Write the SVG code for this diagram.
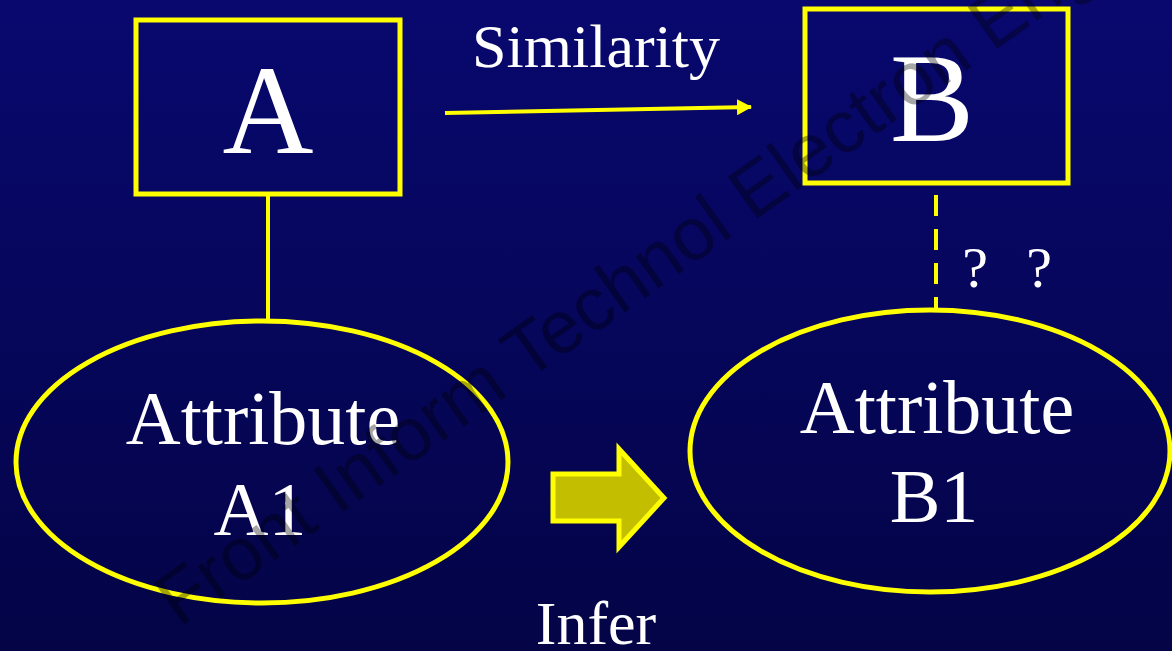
<svg xmlns="http://www.w3.org/2000/svg" width="1172" height="651" viewBox="0 0 1172 651">
  <defs>
    <linearGradient id="bg" x1="0" y1="0" x2="0" y2="1">
      <stop offset="0" stop-color="#08086F"/>
      <stop offset="1" stop-color="#040447"/>
    </linearGradient>
    <marker id="head" viewBox="0 0 15 16" refX="14" refY="8" markerWidth="15" markerHeight="16" markerUnits="userSpaceOnUse" orient="auto">
      <path d="M0,0 L15,8 L0,16 Z" fill="#FFFF00"/>
    </marker>
    <style>
      .shape { fill: none; stroke: #FFFF00; stroke-width: 5; }
      .lbl { font-family: "Liberation Serif", "Times New Roman", serif; fill: #FFFFFF; text-anchor: middle; }
      .conn { stroke: #FFFF00; stroke-width: 4; fill: none; }
      .wm { font-family: "Liberation Sans", Arial, sans-serif; font-size: 74.5px; fill: #000000; fill-opacity: 0.35; }
    </style>
  </defs>
  <rect x="0" y="0" width="1172" height="651" fill="url(#bg)"/>

  <g id="connectors">
    <line class="conn" x1="268" y1="195" x2="268" y2="320"/>
    <line class="conn" x1="445" y1="113" x2="751" y2="107" marker-end="url(#head)"/>
    <line class="conn" x1="936" y1="195" x2="936" y2="310" stroke-width="5" stroke-dasharray="21,13"/>
    <text class="lbl" x="596" y="67" font-size="62">Similarity</text>
    <text class="lbl" x="975" y="287" font-size="58">?</text>
    <text class="lbl" x="1039" y="287" font-size="58">?</text>
  </g>

  <g id="nodeA">
    <rect class="shape" x="136" y="20" width="264" height="174"/>
    <text class="lbl" x="268" y="153" font-size="126">A</text>
  </g>

  <g id="nodeB">
    <rect class="shape" x="805" y="9" width="263" height="174"/>
    <text class="lbl" x="932" y="141" font-size="126">B</text>
  </g>

  <g id="nodeA1">
    <ellipse class="shape" cx="262" cy="462" rx="246" ry="141"/>
    <text class="lbl" x="263" y="444" font-size="76">Attribute</text>
    <text class="lbl" x="260" y="535" font-size="76">A1</text>
  </g>

  <g id="nodeB1">
    <ellipse class="shape" cx="930" cy="451" rx="240" ry="141"/>
    <text class="lbl" x="937" y="433" font-size="76">Attribute</text>
    <text class="lbl" x="934" y="522" font-size="76">B1</text>
  </g>

  <g id="infer">
    <polygon points="553,474 619,474 619,449 664,498 619,547 619,521 553,521" fill="#C4BE00" stroke="#FFFF00" stroke-width="5"/>
    <text class="lbl" x="596" y="644" font-size="62">Infer</text>
  </g>

  <text class="wm" x="179" y="628" transform="rotate(-35.3 179 628)">Front Inform Technol Electron Eng</text>
</svg>
